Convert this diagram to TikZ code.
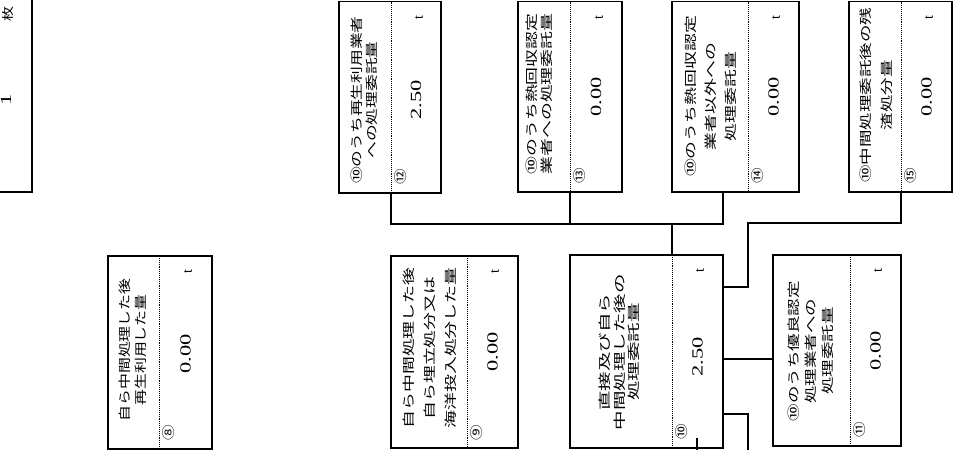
\documentclass[tikz,border=0pt]{standalone}
\usepackage{fontspec}
\setmainfont{Liberation Serif}
\newfontfamily\jp{Noto Sans CJK JP}
\usetikzlibrary{fit}
\newcommand\boxlbl[3]{\jp\fontsize{12.5}{#2}\selectfont\scalebox{#1}[1]{\begin{tabular}{@{}c@{}}#3\end{tabular}}}
\newcommand\boxval[1]{\fontsize{15.5}{15.5}\selectfont\scalebox{1.45}[1]{#1}}
\newcommand\boxnum[1]{\jp\fontsize{13}{13}\selectfont\scalebox{1.2}[1]{#1}}
\newcommand\boxunit[1]{\fontsize{14}{14}\selectfont #1}
\newcommand\mkbox[6]{%
  \node[boxr, fit={(#2,#3) (#4,#5)}] (#1) {};
  \coordinate (#1t) at (#6,#3);
  \coordinate (#1b) at (#6,#5);
  \draw[divl] (#1t) -- (#1b);
}
\begin{document}
\begin{tikzpicture}[x=1pt,y=-1pt,
  boxr/.style={draw, line width=1.3pt, inner sep=0pt, outer sep=0pt},
  conn/.style={line width=1.1pt},
  divl/.style={densely dotted, line width=0.9pt},
  txt/.style={rotate=90, inner sep=0pt, anchor=center}]
\useasboundingbox (0,0) rectangle (972,450);

% partial box at top left
\coordinate (p0) at (32,0);
\coordinate (p1) at (32,192);
\coordinate (p2) at (0,192);
\draw[boxr] (p0) -- (p1) -- (p2);
\node[txt] (p0u) at (8,14) {\jp\fontsize{12}{12}\selectfont\scalebox{1.25}[1]{枚}};
\node[txt] (p0v) at (6,100) {\boxval{1}};

% boxes
\mkbox{b8}{108}{256}{212}{449}{159}
\mkbox{b9}{391}{256}{518}{448}{467}
\mkbox{b10}{570}{255}{723}{448}{672}
\mkbox{b11}{773}{255}{901}{446}{850}
\mkbox{b12}{339}{1.5}{441}{193}{391}
\mkbox{b13}{518}{1.5}{622}{192}{570}
\mkbox{b14}{672}{1.5}{799}{192}{748}
\mkbox{b15}{849}{1.5}{952}{192}{901}

% labels
\node[txt] (b8l) at (134,350) {\boxlbl{1.27}{16}{自ら中間処理した後\\再生利用した量}};
\node[txt] (b9l) at (430,348) {\boxlbl{1.43}{21}{自ら中間処理した後\\自ら埋立処分又は\\海洋投入処分した量}};
\node[txt] (b10l) at (621,352) {\boxlbl{1.56}{14.5}{直接及び自ら\\中間処理した後の\\処理委託量}};
\node[txt] (b11l) at (812,351) {\boxlbl{1.4}{17}{⑩のうち優良認定\\処理業者への\\処理委託量}};
\node[txt] (b12l) at (366,100) {\boxlbl{1.34}{14.5}{⑩のうち再生利用業者\\への処理委託量}};
\node[txt] (b13l) at (541,94) {\boxlbl{1.43}{14.5}{⑩のうち熱回収認定\\業者への処理委託量}};
\node[txt] (b14l) at (711,96.5) {\boxlbl{1.43}{20}{⑩のうち熱回収認定\\業者以外への\\処理委託量}};
\node[txt] (b15l) at (877,95) {\boxlbl{1.4}{21}{⑩中間処理委託後の残\\渣処分量}};

% values
\node[txt] (b8v) at (185.5,354) {\boxval{0.00}};
\node[txt] (b9v) at (492.5,352) {\boxval{0.00}};
\node[txt] (b10v) at (697.5,357) {\boxval{2.50}};
\node[txt] (b11v) at (875.5,351) {\boxval{0.00}};
\node[txt] (b12v) at (416,100) {\boxval{2.50}};
\node[txt] (b13v) at (596,97) {\boxval{0.00}};
\node[txt] (b14v) at (773.5,97) {\boxval{0.00}};
\node[txt] (b15v) at (926.5,97) {\boxval{0.00}};

% units
\node[txt] (b8u) at (188,272) {\boxunit{t}};
\node[txt] (b9u) at (495,272) {\boxunit{t}};
\node[txt] (b10u) at (700,271) {\boxunit{t}};
\node[txt] (b11u) at (878,271) {\boxunit{t}};
\node[txt] (b12u) at (419,18) {\boxunit{t}};
\node[txt] (b13u) at (599,18) {\boxunit{t}};
\node[txt] (b14u) at (776,18) {\boxunit{t}};
\node[txt] (b15u) at (929,18) {\boxunit{t}};

% circled numbers
\node[txt] (b8n) at (169,433) {\boxnum{⑧}};
\node[txt] (b9n) at (477,433) {\boxnum{⑨}};
\node[txt] (b10n) at (682,432) {\boxnum{⑩}};
\node[txt] (b11n) at (860,430) {\boxnum{⑪}};
\node[txt] (b12n) at (401,177) {\boxnum{⑫}};
\node[txt] (b13n) at (580,176) {\boxnum{⑬}};
\node[txt] (b14n) at (758,176) {\boxnum{⑭}};
\node[txt] (b15n) at (911,176) {\boxnum{⑮}};

% connectors
\coordinate (busL) at (391,224);
\coordinate (busR) at (723,224);
\coordinate (b14c) at (723,192);
\draw[conn] (b12b) -- (busL) -- (busR) -- (b14c);
\draw[conn] (b13b) -- (b13b |- busL);
\draw[conn] (b10t) -- (b10t |- busL);

\coordinate (k1) at (748,223);
\coordinate (k2) at (748,287);
\draw[conn] (b15b) |- (k1) -- (k2) -- (k2 -| b10.east);

\coordinate (m1) at (740,359);
\draw[conn] (m1 -| b10.east) -- (m1 -| b11.west);

\coordinate (o1) at (748,414);
\coordinate (o2) at (748,450);
\draw[conn] (o1 -| b10.east) -- (o1) -- (o2);

\coordinate (s1) at (697,438);
\coordinate (s2) at (697,450);
\draw[conn] (s1) -- (s2);
\end{tikzpicture}
\end{document}
